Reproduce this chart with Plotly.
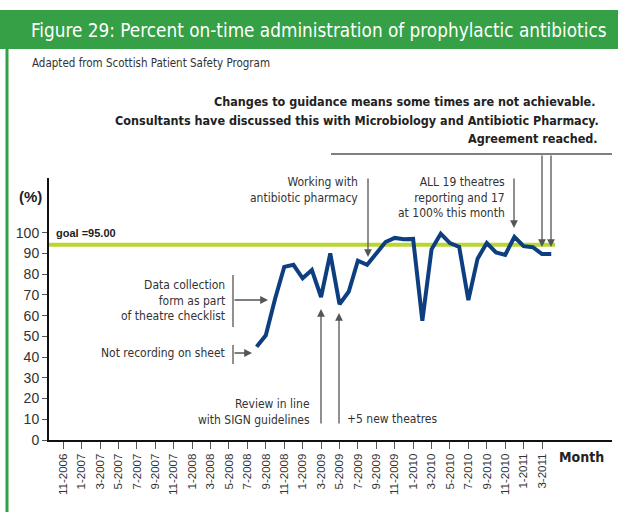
import plotly.graph_objects as go

# all month categories on the x axis (11-2006 .. 4-2011 plus padding)
axis_months = ['9-2006', '10-2006', '11-2006', '12-2006',
               '1-2007', '2-2007', '3-2007', '4-2007', '5-2007', '6-2007', '7-2007', '8-2007', '9-2007', '10-2007', '11-2007', '12-2007',
               '1-2008', '2-2008', '3-2008', '4-2008', '5-2008', '6-2008', '7-2008', '8-2008', '9-2008', '10-2008', '11-2008', '12-2008',
               '1-2009', '2-2009', '3-2009', '4-2009', '5-2009', '6-2009', '7-2009', '8-2009', '9-2009', '10-2009', '11-2009', '12-2009',
               '1-2010', '2-2010', '3-2010', '4-2010', '5-2010', '6-2010', '7-2010', '8-2010', '9-2010', '10-2010', '11-2010', '12-2010',
               '1-2011', '2-2011', '3-2011', '4-2011']

tick_months = ['11-2006', '1-2007', '3-2007', '5-2007', '7-2007', '9-2007', '11-2007', '1-2008', '3-2008', '5-2008',
               '7-2008', '9-2008', '11-2008', '1-2009', '3-2009', '5-2009', '7-2009', '9-2009', '11-2009', '1-2010',
               '3-2010', '5-2010', '7-2010', '9-2010', '11-2010', '1-2011', '3-2011']

months = ['8-2008', '9-2008', '10-2008', '11-2008', '12-2008',
          '1-2009', '2-2009', '3-2009', '4-2009', '5-2009', '6-2009', '7-2009', '8-2009', '9-2009', '10-2009', '11-2009', '12-2009',
          '1-2010', '2-2010', '3-2010', '4-2010', '5-2010', '6-2010', '7-2010', '8-2010', '9-2010', '10-2010', '11-2010', '12-2010',
          '1-2011', '2-2011', '3-2011', '4-2011']
pct = [45, 50.5, 68, 83.5, 84.5,
       78, 82, 69, 90, 65.5, 71.5, 86.5, 84.5, 90, 95.5, 97.5, 96.8,
       97, 57.5, 92, 99.5, 95, 93.2, 67.5, 87.5, 95, 90.5, 89.3, 98,
       93.5, 93, 89.7, 89.7]

goal = 94.2  # drawn level of the goal line (label says 95.00)
y_ticks = [0, 10, 20, 30, 40, 50, 60, 70, 80, 90, 100]

NARROW = "DejaVu Sans Condensed, Liberation Sans Narrow, Arial Narrow, sans-serif"
NORMAL = "Liberation Sans, Arial, sans-serif"
GREEN = '#35a045'
GREY = '#555555'

W, H = 618, 512
L, R, T, B = 49, 612, 178, 440


def px(x):
    return (x - L) / (R - L)


def py(y):
    return (B - y) / (B - T)


fig = go.Figure()
fig.add_trace(go.Scatter(x=months, y=pct, mode='lines',
                         line=dict(color='#0d3f80', width=4), showlegend=False))

shapes = []
# goal line
shapes.append(dict(type='line', xref='paper', yref='y', x0=0, x1=px(555), y0=goal, y1=goal,
                   line=dict(color='#b9d635', width=4), layer='below'))
# title band and green border
shapes.append(dict(type='rect', xref='paper', yref='paper', x0=px(0), x1=px(618), y0=py(49), y1=py(10),
                   fillcolor=GREEN, line=dict(width=0)))
shapes.append(dict(type='line', xref='paper', yref='paper', x0=px(7), x1=px(7), y0=py(49), y1=py(512),
                   line=dict(color=GREEN, width=3)))
# brackets and guide lines
for x0, y0, x1, y1 in [(233, 275, 233, 327), (233, 345, 233, 364), (331, 154, 612, 154)]:
    shapes.append(dict(type='line', xref='paper', yref='paper', x0=px(x0), x1=px(x1), y0=py(y0), y1=py(y1),
                       line=dict(color=GREY, width=1.3)))

ann = []


def text(x, y, s, anchor='right', size=12, family=NARROW, color='#333333', bold=False):
    if bold:
        s = '<b>' + s + '</b>'
    ann.append(dict(xref='paper', yref='paper', x=px(x), y=py(y), text=s, showarrow=False,
                    xanchor=anchor, yanchor='middle', align=anchor,
                    font=dict(family=family, size=size, color=color)))


def arrow(hx, hy, tx, ty):
    ann.append(dict(xref='paper', yref='paper', x=px(hx), y=py(hy), ax=tx - hx, ay=ty - hy,
                    axref='pixel', ayref='pixel', text='', showarrow=True,
                    arrowhead=2, arrowsize=1.2, arrowwidth=1.3, arrowcolor=GREY, standoff=0))


text(29, 30, 'Figure 29: Percent on-time administration of prophylactic antibiotics', anchor='left',
     size=18.8, color='white')
text(30, 63, 'Adapted from Scottish Patient Safety Program', anchor='left', size=11.5)
text(598, 101, 'Changes to guidance means some times are not achievable.', size=12.5, color='#222222', bold=True)
text(601, 120, 'Consultants have discussed this with Microbiology and Antibiotic Pharmacy.', size=12.5,
     color='#222222', bold=True)
text(600, 139, 'Agreement reached.', size=12.5, color='#222222', bold=True)

text(227, 300, 'Data collection<br>form as part<br>of theatre checklist')
text(227, 353, 'Not recording on sheet')
text(312, 412, 'Review in line<br>with SIGN guidelines')
text(345, 419, '+5 new theatres', anchor='left')
text(360, 190, 'Working with<br>antibiotic pharmacy')
text(507, 197, 'ALL 19 theatres<br>reporting and 17<br>at 100% this month')

text(17, 196, '(%)', anchor='left', size=15, family=NORMAL, color='#222222', bold=True)
text(557, 457, 'Month', anchor='left', size=14, color='#222222', bold=True)
text(54, 233, 'goal =95.00', anchor='left', size=11, family=NORMAL, color='#222222', bold=True)

arrow(252, 353, 233, 353)
arrow(268, 300, 233, 300)
arrow(321, 309, 321, 425)
arrow(339, 313, 339, 425)
arrow(368, 257, 368, 177)
arrow(514, 228, 514, 177)
arrow(542, 247, 542, 154)
arrow(551, 247, 551, 154)

fig.update_layout(
    width=W, height=H,
    margin=dict(l=L, r=W - R, t=T, b=H - B),
    paper_bgcolor='white', plot_bgcolor='white',
    shapes=shapes, annotations=ann,
    xaxis=dict(type='category', categoryorder='array', categoryarray=axis_months,
               range=[axis_months.index('11-2006') - 1.55, axis_months.index('11-2006') + 59.6],
               tickvals=tick_months, ticktext=tick_months, tickangle=-90,
               showgrid=False, zeroline=False, showline=True, linecolor='#111111', linewidth=2,
               ticks='outside', ticklen=7, tickcolor='#555555', tickwidth=1,
               tickfont=dict(family=NORMAL, size=11.5, color='#333333')),
    yaxis=dict(range=[0, 126.4], tickvals=y_ticks, showgrid=False, zeroline=False,
               showline=True, linecolor='#111111', linewidth=2,
               ticks='outside', ticklen=5, tickcolor='#555555', tickwidth=1,
               tickfont=dict(family=NORMAL, size=14, color='#333333')),
)

# drop the default page margin so the figure sits at the window's top-left corner
fig.write_html("out.html", config={'displayModeBar': False},
               post_script="document.body.style.margin='0';")
